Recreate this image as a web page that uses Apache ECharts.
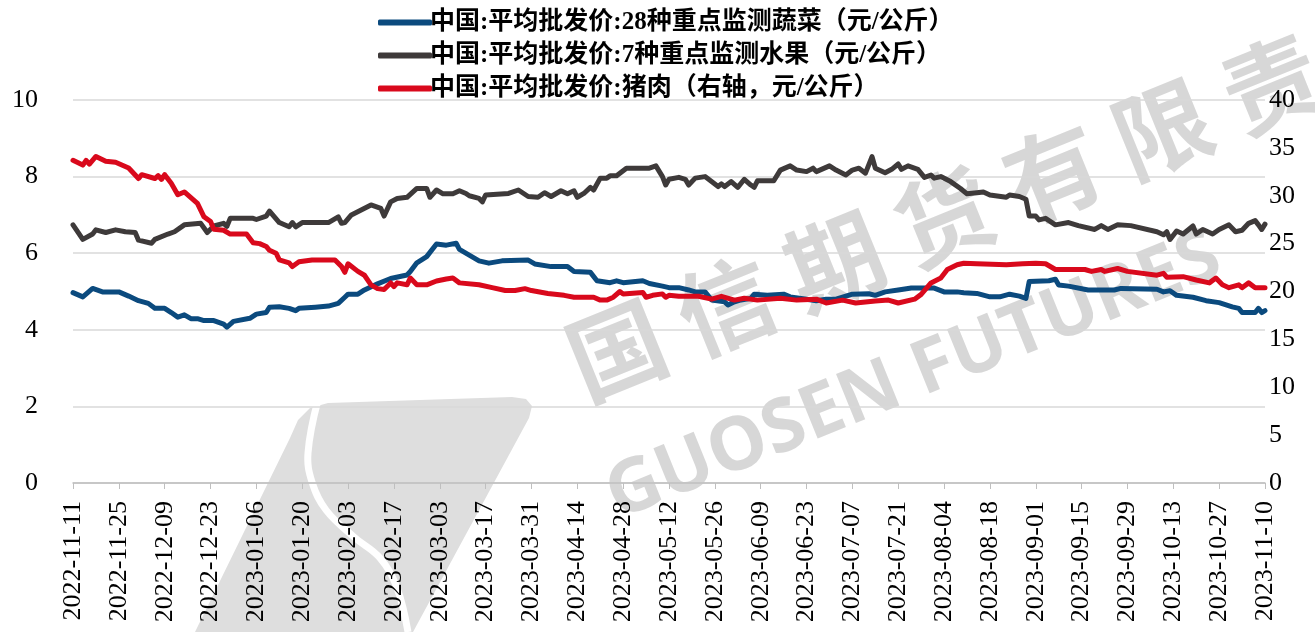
<!DOCTYPE html>
<html>
<head>
<meta charset="utf-8">
<script src="https://cdn.jsdelivr.net/npm/echarts@6/dist/echarts.min.js"></script>
<style>
  html, body { margin: 0; padding: 0; background: #fff; }
  #chart { width: 1315px; height: 632px; }
</style>
</head>
<body>
<div id="chart"></div>
<script>
// daily category axis, 2022-11-11 .. 2023-11-10
var dayCount = 365;
var dates = [];
for (var i = 0; i < dayCount; i++) {
    var t = new Date(Date.UTC(2022, 10, 11 + i));
    dates.push(t.toISOString().slice(0, 10));
}

var seriesNames = [
    '中国:平均批发价:28种重点监测蔬菜（元/公斤）',
    '中国:平均批发价:7种重点监测水果（元/公斤）',
    '中国:平均批发价:猪肉（右轴，元/公斤）'
];

// 蔬菜 (左轴)
var vegetable = [
    ['2022-11-11', 4.97], ['2022-11-14', 4.86], ['2022-11-17', 5.08], ['2022-11-20', 4.99],
    ['2022-11-25', 4.99], ['2022-11-28', 4.88], ['2022-12-01', 4.76], ['2022-12-04', 4.69],
    ['2022-12-06', 4.56], ['2022-12-09', 4.56], ['2022-12-11', 4.45], ['2022-12-13', 4.33],
    ['2022-12-15', 4.39], ['2022-12-17', 4.29], ['2022-12-19', 4.29], ['2022-12-21', 4.24],
    ['2022-12-24', 4.24], ['2022-12-27', 4.15], ['2022-12-28', 4.07], ['2022-12-30', 4.22],
    ['2023-01-04', 4.30], ['2023-01-06', 4.41], ['2023-01-09', 4.45], ['2023-01-10', 4.59],
    ['2023-01-13', 4.60], ['2023-01-16', 4.56], ['2023-01-18', 4.50], ['2023-01-19', 4.56],
    ['2023-01-24', 4.59], ['2023-01-28', 4.62], ['2023-01-31', 4.69], ['2023-02-02', 4.85],
    ['2023-02-03', 4.93], ['2023-02-06', 4.93], ['2023-02-08', 5.04], ['2023-02-12', 5.20],
    ['2023-02-16', 5.34], ['2023-02-21', 5.43], ['2023-02-22', 5.52], ['2023-02-24', 5.75],
    ['2023-02-27', 5.91], ['2023-03-02', 6.24], ['2023-03-05', 6.21], ['2023-03-08', 6.26],
    ['2023-03-09', 6.10], ['2023-03-12', 5.95], ['2023-03-15', 5.80], ['2023-03-18', 5.74],
    ['2023-03-22', 5.80], ['2023-03-30', 5.82], ['2023-04-01', 5.72], ['2023-04-06', 5.65],
    ['2023-04-11', 5.65], ['2023-04-13', 5.52], ['2023-04-18', 5.50], ['2023-04-20', 5.28],
    ['2023-04-24', 5.23], ['2023-04-26', 5.28], ['2023-04-28', 5.23], ['2023-05-04', 5.28],
    ['2023-05-06', 5.21], ['2023-05-10', 5.14], ['2023-05-12', 5.10], ['2023-05-15', 5.10],
    ['2023-05-18', 5.04], ['2023-05-20', 4.99], ['2023-05-23', 4.99], ['2023-05-25', 4.78],
    ['2023-05-29', 4.73], ['2023-05-30', 4.65], ['2023-06-01', 4.73], ['2023-06-03', 4.78],
    ['2023-06-06', 4.82], ['2023-06-07', 4.93], ['2023-06-11', 4.90], ['2023-06-16', 4.93],
    ['2023-06-18', 4.86], ['2023-06-23', 4.80], ['2023-06-26', 4.76], ['2023-06-29', 4.80],
    ['2023-07-02', 4.80], ['2023-07-07', 4.93], ['2023-07-12', 4.94], ['2023-07-14', 4.90],
    ['2023-07-17', 4.99], ['2023-07-21', 5.04], ['2023-07-25', 5.09], ['2023-07-29', 5.09],
    ['2023-08-01', 5.09], ['2023-08-04', 4.99], ['2023-08-08', 4.99], ['2023-08-10', 4.97],
    ['2023-08-14', 4.95], ['2023-08-18', 4.86], ['2023-08-21', 4.86], ['2023-08-24', 4.93],
    ['2023-08-27', 4.88], ['2023-08-29', 4.82], ['2023-08-30', 5.26], ['2023-09-05', 5.28],
    ['2023-09-07', 5.32], ['2023-09-08', 5.17], ['2023-09-11', 5.14], ['2023-09-17', 5.04],
    ['2023-09-25', 5.04], ['2023-09-27', 5.08], ['2023-10-08', 5.06], ['2023-10-10', 4.99],
    ['2023-10-12', 5.02], ['2023-10-14', 4.90], ['2023-10-19', 4.85], ['2023-10-23', 4.76],
    ['2023-10-27', 4.71], ['2023-10-31', 4.60], ['2023-11-02', 4.56], ['2023-11-03', 4.45],
    ['2023-11-07', 4.45], ['2023-11-08', 4.56], ['2023-11-09', 4.45], ['2023-11-10', 4.50]
];

// 水果 (左轴)
var fruit = [
    ['2022-11-11', 6.74], ['2022-11-14', 6.36], ['2022-11-17', 6.50], ['2022-11-18', 6.61],
    ['2022-11-21', 6.54], ['2022-11-24', 6.61], ['2022-11-27', 6.56], ['2022-11-30', 6.54],
    ['2022-12-01', 6.34], ['2022-12-05', 6.26], ['2022-12-06', 6.36], ['2022-12-10', 6.50],
    ['2022-12-12', 6.56], ['2022-12-15', 6.74], ['2022-12-20', 6.78], ['2022-12-22', 6.54],
    ['2022-12-24', 6.71], ['2022-12-27', 6.78], ['2022-12-28', 6.70], ['2022-12-29', 6.91],
    ['2023-01-05', 6.91], ['2023-01-06', 6.88], ['2023-01-09', 6.97], ['2023-01-10', 7.10],
    ['2023-01-13', 6.80], ['2023-01-16', 6.69], ['2023-01-17', 6.80], ['2023-01-18', 6.69],
    ['2023-01-20', 6.80], ['2023-01-28', 6.80], ['2023-01-31', 6.95], ['2023-02-01', 6.78],
    ['2023-02-02', 6.80], ['2023-02-04', 7.00], ['2023-02-07', 7.13], ['2023-02-10', 7.26],
    ['2023-02-13', 7.17], ['2023-02-14', 6.97], ['2023-02-16', 7.34], ['2023-02-18', 7.43],
    ['2023-02-21', 7.46], ['2023-02-24', 7.69], ['2023-02-27', 7.69], ['2023-02-28', 7.46],
    ['2023-03-02', 7.65], ['2023-03-04', 7.55], ['2023-03-07', 7.55], ['2023-03-09', 7.63],
    ['2023-03-11', 7.56], ['2023-03-12', 7.50], ['2023-03-15', 7.43], ['2023-03-16', 7.34],
    ['2023-03-17', 7.52], ['2023-03-24', 7.56], ['2023-03-27', 7.65], ['2023-03-30', 7.48],
    ['2023-04-02', 7.46], ['2023-04-04', 7.58], ['2023-04-06', 7.48], ['2023-04-09', 7.63],
    ['2023-04-11', 7.55], ['2023-04-13', 7.63], ['2023-04-14', 7.46], ['2023-04-16', 7.56],
    ['2023-04-18', 7.72], ['2023-04-19', 7.65], ['2023-04-21', 7.96], ['2023-04-23', 7.96],
    ['2023-04-24', 8.02], ['2023-04-26', 8.02], ['2023-04-29', 8.22], ['2023-05-06', 8.22],
    ['2023-05-08', 8.28], ['2023-05-10', 8.00], ['2023-05-11', 7.78], ['2023-05-12', 7.93],
    ['2023-05-15', 7.98], ['2023-05-17', 7.93], ['2023-05-18', 7.78], ['2023-05-20', 7.96],
    ['2023-05-23', 8.00], ['2023-05-27', 7.74], ['2023-05-28', 7.81], ['2023-05-29', 7.74],
    ['2023-05-31', 7.87], ['2023-06-02', 7.72], ['2023-06-04', 7.93], ['2023-06-06', 7.78],
    ['2023-06-07', 7.72], ['2023-06-08', 7.89], ['2023-06-13', 7.89], ['2023-06-15', 8.17],
    ['2023-06-18', 8.28], ['2023-06-20', 8.17], ['2023-06-23', 8.13], ['2023-06-25', 8.22],
    ['2023-06-26', 8.13], ['2023-06-30', 8.28], ['2023-07-02', 8.17], ['2023-07-05', 8.04],
    ['2023-07-07', 8.17], ['2023-07-09', 8.22], ['2023-07-11', 8.09], ['2023-07-13', 8.52],
    ['2023-07-14', 8.22], ['2023-07-17', 8.10], ['2023-07-19', 8.19], ['2023-07-21', 8.33],
    ['2023-07-22', 8.19], ['2023-07-24', 8.28], ['2023-07-27', 8.19], ['2023-07-29', 7.98],
    ['2023-07-31', 8.04], ['2023-08-01', 7.96], ['2023-08-03', 8.00], ['2023-08-06', 7.87],
    ['2023-08-09', 7.69], ['2023-08-11', 7.55], ['2023-08-14', 7.58], ['2023-08-16', 7.60],
    ['2023-08-18', 7.52], ['2023-08-23', 7.46], ['2023-08-24', 7.52], ['2023-08-27', 7.48],
    ['2023-08-29', 7.41], ['2023-08-30', 6.97], ['2023-09-01', 6.97], ['2023-09-02', 6.87],
    ['2023-09-04', 6.91], ['2023-09-07', 6.74], ['2023-09-11', 6.80], ['2023-09-14', 6.72],
    ['2023-09-19', 6.62], ['2023-09-21', 6.72], ['2023-09-23', 6.62], ['2023-09-26', 6.74],
    ['2023-09-30', 6.72], ['2023-10-08', 6.56], ['2023-10-10', 6.48], ['2023-10-11', 6.56],
    ['2023-10-12', 6.36], ['2023-10-14', 6.58], ['2023-10-16', 6.50], ['2023-10-19', 6.71],
    ['2023-10-20', 6.50], ['2023-10-22', 6.62], ['2023-10-25', 6.50], ['2023-10-27', 6.62],
    ['2023-10-30', 6.74], ['2023-11-01', 6.56], ['2023-11-03', 6.60], ['2023-11-05', 6.78],
    ['2023-11-07', 6.85], ['2023-11-08', 6.74], ['2023-11-09', 6.62], ['2023-11-10', 6.76]
];

// 猪肉 (右轴)
var pork = [
    ['2022-11-11', 33.7], ['2022-11-14', 33.2], ['2022-11-15', 33.7], ['2022-11-16', 33.3],
    ['2022-11-18', 34.1], ['2022-11-21', 33.6], ['2022-11-24', 33.5], ['2022-11-28', 32.9],
    ['2022-12-01', 31.8], ['2022-12-02', 32.2], ['2022-12-06', 31.8], ['2022-12-07', 32.1],
    ['2022-12-08', 31.7], ['2022-12-09', 32.2], ['2022-12-11', 31.3], ['2022-12-13', 30.1],
    ['2022-12-15', 30.4], ['2022-12-19', 29.2], ['2022-12-21', 27.8], ['2022-12-23', 27.3],
    ['2022-12-24', 26.5], ['2022-12-27', 26.4], ['2022-12-29', 26.0], ['2023-01-03', 26.0],
    ['2023-01-05', 25.1], ['2023-01-07', 25.0], ['2023-01-09', 24.7], ['2023-01-10', 24.3],
    ['2023-01-12', 24.0], ['2023-01-13', 23.3], ['2023-01-16', 23.0], ['2023-01-17', 22.6],
    ['2023-01-19', 23.1], ['2023-01-23', 23.3], ['2023-01-30', 23.3], ['2023-02-01', 22.6],
    ['2023-02-02', 22.0], ['2023-02-03', 22.9], ['2023-02-06', 22.1], ['2023-02-08', 21.7],
    ['2023-02-10', 20.7], ['2023-02-12', 20.3], ['2023-02-14', 20.2], ['2023-02-16', 20.9],
    ['2023-02-17', 20.5], ['2023-02-18', 20.9], ['2023-02-21', 20.7], ['2023-02-22', 21.4],
    ['2023-02-24', 20.7], ['2023-02-27', 20.7], ['2023-03-02', 21.1], ['2023-03-05', 21.3],
    ['2023-03-07', 21.4], ['2023-03-09', 20.9], ['2023-03-15', 20.7], ['2023-03-19', 20.4],
    ['2023-03-23', 20.1], ['2023-03-26', 20.1], ['2023-03-29', 20.3], ['2023-03-31', 20.1],
    ['2023-04-05', 19.8], ['2023-04-10', 19.6], ['2023-04-13', 19.4], ['2023-04-19', 19.4],
    ['2023-04-21', 19.1], ['2023-04-23', 19.1], ['2023-04-25', 19.4], ['2023-04-27', 20.0],
    ['2023-04-28', 19.75], ['2023-05-04', 19.9], ['2023-05-05', 19.4], ['2023-05-07', 19.6],
    ['2023-05-10', 19.75], ['2023-05-11', 19.4], ['2023-05-12', 19.6], ['2023-05-15', 19.5],
    ['2023-05-21', 19.5], ['2023-05-25', 19.2], ['2023-05-28', 19.5], ['2023-06-01', 19.1],
    ['2023-06-04', 19.3], ['2023-06-08', 19.1], ['2023-06-15', 19.3], ['2023-06-20', 19.1],
    ['2023-06-26', 19.2], ['2023-06-29', 18.8], ['2023-07-04', 19.1], ['2023-07-08', 18.8],
    ['2023-07-14', 19.0], ['2023-07-18', 19.1], ['2023-07-21', 18.8], ['2023-07-26', 19.2],
    ['2023-07-28', 19.7], ['2023-07-31', 20.9], ['2023-08-03', 21.4], ['2023-08-05', 22.3],
    ['2023-08-08', 22.8], ['2023-08-10', 22.95], ['2023-08-14', 22.9], ['2023-08-23', 22.8],
    ['2023-08-28', 22.9], ['2023-09-01', 22.95], ['2023-09-04', 22.9], ['2023-09-07', 22.3],
    ['2023-09-16', 22.3], ['2023-09-18', 22.1], ['2023-09-21', 22.3], ['2023-09-22', 22.1],
    ['2023-09-26', 22.4], ['2023-09-29', 22.1], ['2023-10-08', 21.7], ['2023-10-10', 21.9],
    ['2023-10-11', 21.5], ['2023-10-16', 21.55], ['2023-10-20', 21.2], ['2023-10-24', 20.9],
    ['2023-10-26', 21.4], ['2023-10-28', 20.7], ['2023-10-30', 20.4], ['2023-11-02', 20.7],
    ['2023-11-03', 20.4], ['2023-11-05', 20.9], ['2023-11-07', 20.4], ['2023-11-10', 20.4]
];

var colors = ['#0b4a7e', '#3e3a3a', '#d9091c'];
var serifFont = "'Liberation Serif', 'Noto Sans CJK SC', serif";
var wmColor = 'rgba(175,175,175,0.5)';

var chart = echarts.init(document.getElementById('chart'));
var option = {
    animation: false,
    color: colors,
    grid: { left: 73, right: 50, top: 100, bottom: 149 },
    legend: {
        orient: 'vertical',
        left: 378,
        top: 10,
        padding: 0,
        itemWidth: 54,
        itemHeight: 6,
        itemGap: 8,
        icon: 'roundRect',
        textStyle: { fontFamily: serifFont, fontSize: 25, fontWeight: 'bold', color: '#000', padding: [0, 0, 0, -7] },
        data: seriesNames
    },
    graphic: [
        // 水印 logo
        {
            type: 'polygon', z: -10, silent: true,
            shape: { points: [[195, 632], [290, 438], [298, 420], [310, 408], [328, 403], [512, 397],
                              [526, 399], [532, 406], [529, 418], [413, 632]] },
            style: { fill: '#dedede' }
        },
        {
            type: 'polyline', z: -9, silent: true,
            shape: { points: [[318, 400], [308, 453], [312, 482], [326, 510], [354, 537], [380, 558],
                              [397, 588], [408, 632]], smooth: 0.4 },
            style: { stroke: '#fff', lineWidth: 7, fill: null }
        },
        {
            type: 'text', z: -10, silent: true, x: 572, y: 368, rotation: 0.385,
            style: { text: '国 信 期 货 有 限 责 任', fill: wmColor, fontSize: 96, fontWeight: 'bold',
                     fontFamily: 'Noto Sans CJK SC', textVerticalAlign: 'middle' }
        },
        {
            type: 'text', z: -10, silent: true, x: 610, y: 500, rotation: 0.385,
            style: { text: 'GUOSEN FUTURES', fill: wmColor, fontSize: 74, fontWeight: 'bold',
                     fontFamily: 'Noto Sans', textVerticalAlign: 'middle' }
        }
    ],
    xAxis: {
        type: 'category',
        boundaryGap: false,
        data: dates,
        axisLine: { lineStyle: { color: '#bfbfbf', width: 1.5 } },
        axisTick: { interval: 13, length: 6, lineStyle: { color: '#bfbfbf' } },
        axisLabel: { interval: 13, rotate: 90, margin: 18, color: '#000', fontFamily: serifFont, fontSize: 26 },
        splitLine: { show: false }
    },
    yAxis: [
        {
            type: 'value', min: 0, max: 10, interval: 2,
            axisLine: { show: false }, axisTick: { show: false },
            axisLabel: { margin: 35, color: '#000', fontFamily: serifFont, fontSize: 26 },
            splitLine: { lineStyle: { color: '#d9d9d9', width: 1.5 } }
        },
        {
            type: 'value', min: 0, max: 40, interval: 5,
            axisLine: { show: false }, axisTick: { show: false },
            axisLabel: { margin: 4, color: '#000', fontFamily: serifFont, fontSize: 26 },
            splitLine: { show: false }
        }
    ],
    series: [
        { name: seriesNames[0], type: 'line', yAxisIndex: 0, data: vegetable, showSymbol: false,
          lineStyle: { width: 5, color: colors[0], join: 'round', cap: 'round' }, z: 3 },
        { name: seriesNames[1], type: 'line', yAxisIndex: 0, data: fruit, showSymbol: false,
          lineStyle: { width: 5, color: colors[1], join: 'round', cap: 'round' }, z: 3 },
        { name: seriesNames[2], type: 'line', yAxisIndex: 1, data: pork, showSymbol: false,
          lineStyle: { width: 5, color: colors[2], join: 'round', cap: 'round' }, z: 4 }
    ]
};
chart.setOption(option);
</script>
</body>
</html>
